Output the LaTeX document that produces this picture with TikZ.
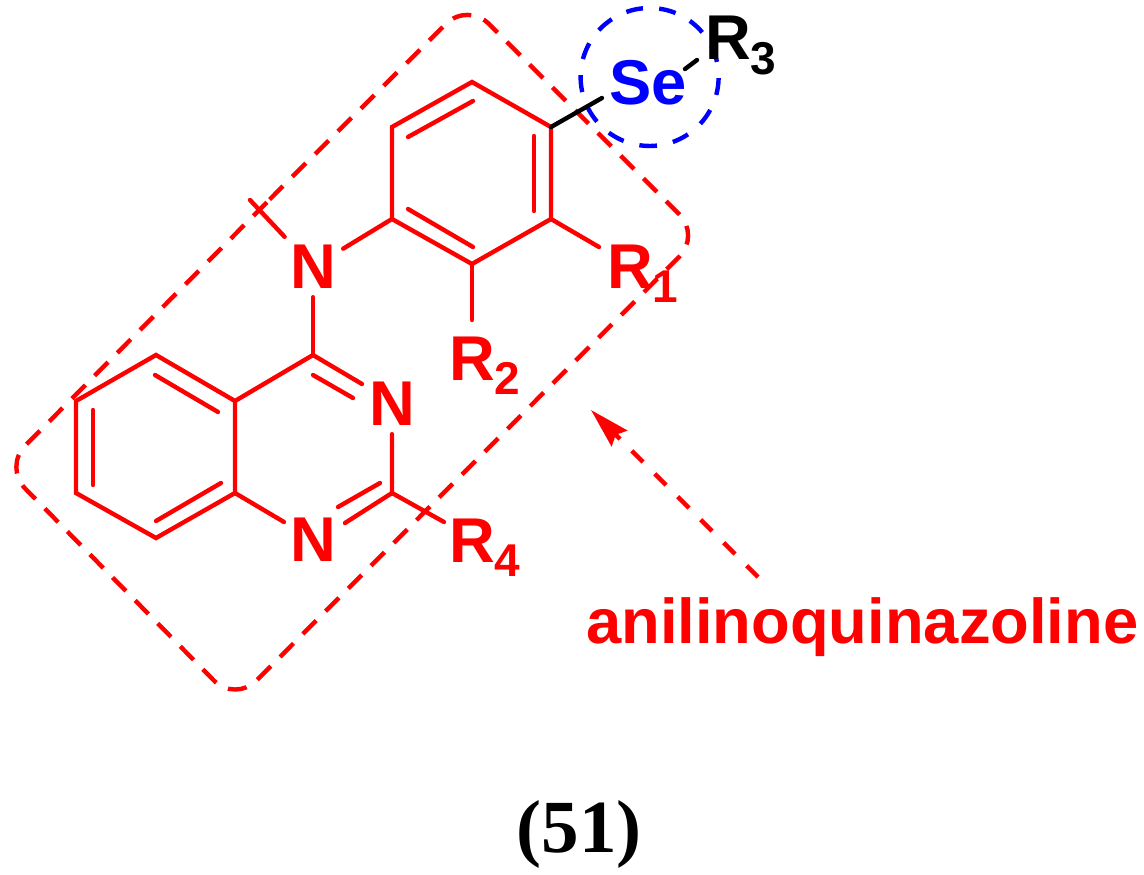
\documentclass[tikz,border=0pt]{standalone}
\usepackage{fontspec}
\setmainfont{Liberation Sans}
\newfontfamily\serifbold{Liberation Serif}
\usetikzlibrary{arrows.meta}
\definecolor{molred}{RGB}{255,0,0}
\definecolor{molblue}{RGB}{0,0,255}
\newcommand{\RSub}[2]{#1\raisebox{-14pt}{\fontsize{46}{46}\selectfont #2}}
\tikzset{
  bond/.style={draw=molred,line width=4.4pt,line cap=round,line join=miter},
  blackbond/.style={draw=black,line width=4.4pt,line cap=round},
  atomtext/.style={font=\fontsize{63.3}{63}\selectfont\bfseries,text=molred,inner sep=0pt},
  atom/.style={atomtext,minimum width=60pt,minimum height=60pt,anchor=center},
  rlabel/.style={atomtext,anchor=base west},
  vertex/.style={coordinate},
  frame/.style={draw=molred,line width=4.4pt,dash pattern=on 19pt off 13.2pt,rounded corners=30pt},
  selring/.style={draw=molblue,line width=4.4pt,dash pattern=on 17pt off 16.3pt},
}
\begin{document}
\begin{tikzpicture}[x=1pt,y=-1pt]
\useasboundingbox (0,0) rectangle (1144,875);
% frame
\coordinate (fs) at (288,181);
\coordinate (fl) at (4,467);
\coordinate (fb) at (235,702);
\coordinate (fr) at (700.5,235.5);
\coordinate (ft) at (467.5,2.5);
\draw[frame] (fs) -- (fl) -- (fb) -- (fr) -- (ft) -- cycle;
% selenium circle
\coordinate (sc) at (650,77);
\draw[selring] (640,145.3) arc[start angle=98,delta angle=-360,radius=69];
% atoms
\node[vertex] (a1) at (472,82) {};
\node[vertex] (a2) at (551,127) {};
\node[vertex] (a3) at (551,219) {};
\node[vertex] (a4) at (472,264) {};
\node[vertex] (a5) at (392,219) {};
\node[vertex] (a6) at (392,127) {};
\node[atom] (n9) at (313,267) {N};
\node[vertex] (c4) at (313,355) {};
\node[vertex] (c4a) at (235,401) {};
\node[vertex] (c8a) at (235,493) {};
\node[vertex] (c5) at (156,355) {};
\node[vertex] (c6) at (76,401) {};
\node[vertex] (c7) at (76,493) {};
\node[vertex] (c8) at (156,538) {};
\node[atom] (n3) at (392,404) {N};
\node[vertex] (c2) at (392,493) {};
\node[atom] (n1) at (313,540) {N};
% labels
\node[rlabel,text=molblue] (se) at (609,105) {Se};
\node[rlabel,text=black] (r3) at (705,60) {\RSub{R}{3}};
\node[rlabel] (r1) at (607,288) {\RSub{R}{1}};
\node[rlabel] (r2) at (449,380) {\RSub{R}{2}};
\node[rlabel] (r4) at (449,562) {\RSub{R}{4}};
% bond ends
\coordinate (sebond) at (602,98);
\coordinate (sea) at (685,69);
\coordinate (r3a) at (697,60);
\coordinate (r1a) at (599,247);
\coordinate (r2a) at (472,320);
\coordinate (r4a) at (444,522);
\coordinate (stub) at (250,200);
\coordinate (n1a) at (284,522);
\coordinate (n1b) at (345,523);
\coordinate (n3a) at (362,384);
% benzene
\draw[bond] (a2) -- (a1) -- (a6) -- (a5) -- (a4) -- (a3) -- (a2);
\coordinate (i1a) at (408,137); \coordinate (i1b) at (473,101);
\coordinate (i2a) at (408,209); \coordinate (i2b) at (473,247);
\coordinate (i3a) at (534,136); \coordinate (i3b) at (534,211);
\draw[bond] (i1a) -- (i1b);
\draw[bond] (i2a) -- (i2b);
\draw[bond] (i3a) -- (i3b);
% quinazoline
\draw[bond] (c4) -- (c4a) -- (c5) -- (c6) -- (c7) -- (c8) -- (c8a) -- (c4a);
\draw[bond] (c8a) -- (n1a);
\draw[bond] (c4) -- (n3a);
\draw[bond] (n1b) -- (c2) -- (n3);
\coordinate (i4a) at (155,375); \coordinate (i4b) at (218,412);
\coordinate (i5a) at (93,410); \coordinate (i5b) at (93,485);
\coordinate (i6a) at (156,521); \coordinate (i6b) at (221,483);
\coordinate (i7a) at (313,375); \coordinate (i7b) at (353,398);
\coordinate (i8a) at (338,507); \coordinate (i8b) at (380,483);
\draw[bond] (i4a) -- (i4b);
\draw[bond] (i5a) -- (i5b);
\draw[bond] (i6a) -- (i6b);
\draw[bond] (i7a) -- (i7b);
\draw[bond] (i8a) -- (i8b);
% substituent bonds
\draw[bond] (n9) -- (a5);
\draw[bond] (n9) -- (c4);
\draw[bond] (n9) -- (stub);
\draw[bond] (a3) -- (r1a);
\draw[bond] (a4) -- (r2a);
\draw[bond] (c2) -- (r4a);
\draw[blackbond] (a2) -- (sebond);
\draw[blackbond] (sea) -- (r3a);
% arrow
\coordinate (arrs) at (758,577);
\coordinate (arre) at (591,410);
\draw[molred,line width=4.4pt,dash pattern=on 16pt off 16.5pt,-{Stealth[length=40pt,width=22pt,inset=5pt,sep=0pt]}] (arrs) -- (arre);
% captions
\node[atomtext,anchor=base west] (name) at (586,643) {anilinoquinazoline};
\node[anchor=base,inner sep=0pt,text=black,font=\serifbold\bfseries\fontsize{75}{75}\selectfont] (num) at (579,852) {(51)};
\end{tikzpicture}
\end{document}
